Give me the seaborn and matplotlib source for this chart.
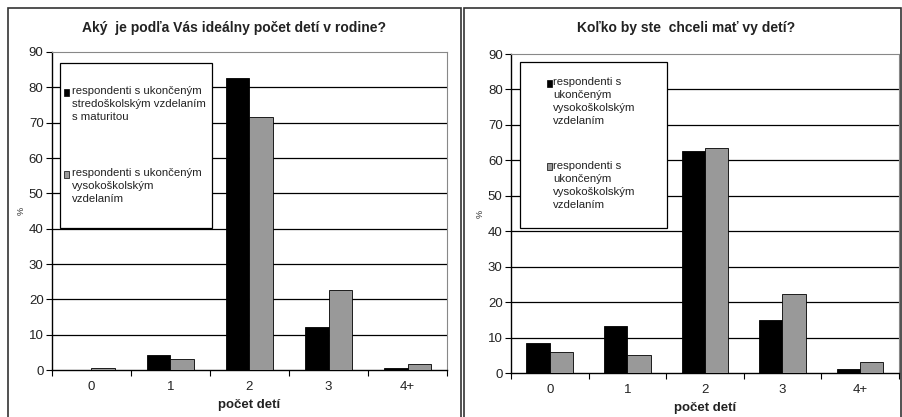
import pandas as pd
import matplotlib.pyplot as plt
import seaborn as sns
from matplotlib.patches import Rectangle

# hodnoty odcitane z grafu (%)
kategorie = ['0', '1', '2', '3', '4+']
idealny_stredo = [0.0, 4.3, 82.7, 12.3, 0.6]
idealny_vyso = [0.6, 3.1, 71.7, 22.7, 1.8]
chceli_a = [8.6, 13.2, 62.7, 15.0, 1.0]
chceli_b = [5.8, 5.2, 63.5, 22.4, 3.0]

titulky = ['Aký  je podľa Vás ideálny počet detí v rodine?',
           'Koľko by ste  chceli mať vy detí?']
legenda_lavy = ['respondenti s ukončeným\nstredoškolským vzdelaním\ns maturitou',
                'respondenti s ukončeným\nvysokoškolským\nvzdelaním']
legenda_pravy = ['respondenti s\nukončeným\nvysokoškolským\nvzdelaním',
                 'respondenti s\nukončeným\nvysokoškolským\nvzdelaním']
farby = ['black', '#999999']

sns.set_style('white')
plt.rcParams['font.family'] = ['Liberation Sans', 'DejaVu Sans']

fig = plt.figure(figsize=(9.02, 4.17), dpi=100)

# ramceky okolo grafov
for x0, x1 in [(8, 461), (464, 901)]:
    fig.patches.append(Rectangle((x0 / 902, -0.01), (x1 - x0) / 902, 1.01 - 8 / 417,
                                 transform=fig.transFigure, fill=False,
                                 edgecolor='#333333', linewidth=1.2))

pozicie = [[0.0576, 0.1127, 0.4380, 0.7626], [0.5665, 0.1055, 0.4300, 0.7650]]
data = [(idealny_stredo, idealny_vyso, legenda_lavy), (chceli_a, chceli_b, legenda_pravy)]
# box legendy: x0, x1, y0, y1, x znacky, x textu, y prvej a druhej polozky
legenda_box = [(0.020, 0.405, 0.447, 0.965, 0.030, 0.050, 0.874, 0.616),
               (0.023, 0.402, 0.455, 0.975, 0.092, 0.108, 0.909, 0.646)]
titulok_x = [234 / 902, 686 / 902]

for i in range(2):
    a, b, lab = data[i]
    df = pd.DataFrame({'kat': kategorie * 2, 'val': a + b,
                       'skupina': ['A'] * 5 + ['B'] * 5})
    ax = fig.add_axes(pozicie[i])
    sns.barplot(data=df, x='kat', y='val', hue='skupina', palette=farby,
                width=0.6, edgecolor='black', linewidth=0.6, ax=ax, zorder=3, legend=False)
    ax.set_ylim(0, 90)
    ax.set_xlim(-0.5, 4.5)
    ax.set_yticks(range(0, 91, 10))
    for y in range(10, 90, 10):
        ax.axhline(y, color='black', linewidth=0.9, zorder=1)
    ax.set_xticks([0, 1, 2, 3, 4])
    ax.set_xticks([-0.5, 0.5, 1.5, 2.5, 3.5, 4.5], minor=True)
    ax.tick_params(axis='x', which='major', length=0, labelsize=9.5, pad=8)
    ax.tick_params(axis='x', which='minor', length=4, width=0.8, direction='out', color='black', bottom=True)
    ax.tick_params(axis='y', length=4, width=0.8, direction='out', color='black', left=True,
                   labelsize=9.5, pad=2, labelcolor='#222222')
    ax.tick_params(axis='x', labelcolor='#222222')
    for s in ['top', 'right']:
        ax.spines[s].set_color('#888888')
        ax.spines[s].set_linewidth(0.8)
    for s in ['left', 'bottom']:
        ax.spines[s].set_color('black')
        ax.spines[s].set_linewidth(1)
    ax.set_xlabel('počet detí', fontsize=9.5, fontweight='bold', labelpad=4, color='#222222')
    ax.set_ylabel('%', fontsize=6.5, labelpad=2)
    fig.text(titulok_x[i], 1 - 28 / 417, titulky[i], fontsize=10, fontweight='bold',
             ha='center', va='center', color='#222222')

    # legenda
    x0, x1, y0, y1, xm, xt, ya, yb = legenda_box[i]
    ax.add_patch(Rectangle((x0, y0), x1 - x0, y1 - y0, transform=ax.transAxes,
                           facecolor='white', edgecolor='black', linewidth=0.9, zorder=5))
    for j, yy in enumerate([ya, yb]):
        ax.add_patch(Rectangle((xm, yy - 0.011), 0.014, 0.022, transform=ax.transAxes,
                               facecolor=farby[j], edgecolor='black', linewidth=0.5, zorder=6))
        ax.text(xt, yy + 0.019, lab[j], transform=ax.transAxes, fontsize=8.2, va='top',
                ha='left', linespacing=1.38, color='#222222', zorder=6)

plt.savefig('out.png', dpi=100)
